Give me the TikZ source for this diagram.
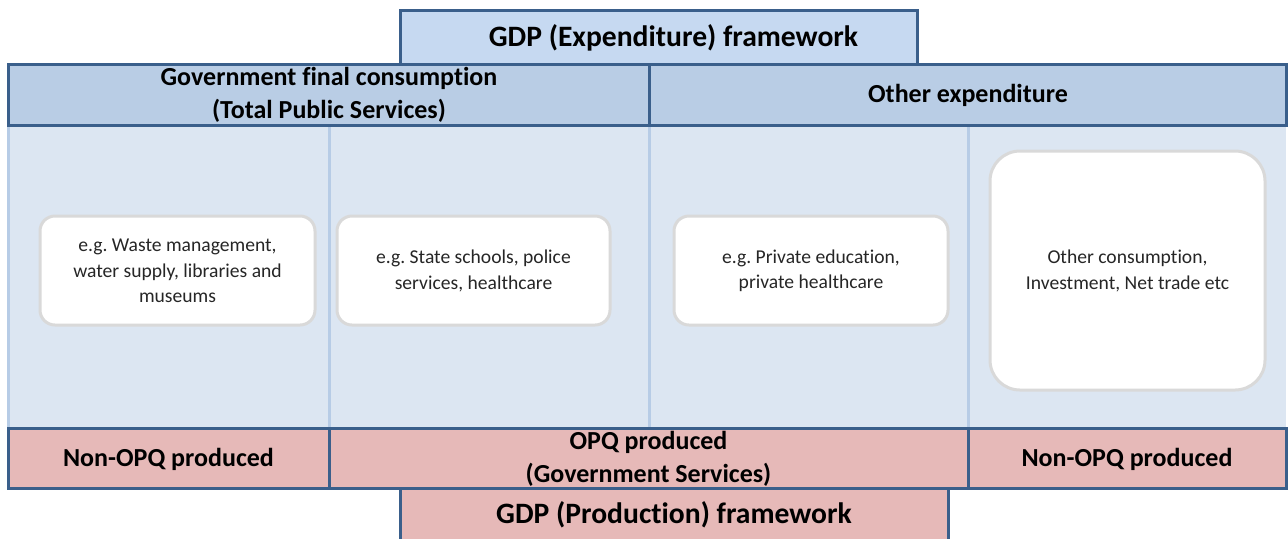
\documentclass[tikz,border=0pt]{standalone}
\usepackage{fontspec}
\setmainfont{Carlito}[Ligatures=NoCommon]
\usepackage{xcolor}
\frenchspacing

\definecolor{frameblue}{HTML}{3A5F8B}
\definecolor{topfill}{HTML}{C6D9F1}
\definecolor{headfill}{HTML}{B9CDE5}
\definecolor{bodyfill}{HTML}{DCE6F2}
\definecolor{sepblue}{HTML}{B7CCE6}
\definecolor{pinkfill}{HTML}{E6B9B8}
\definecolor{boxgrey}{HTML}{D9D9D9}

\tikzset{
    framed/.style={draw=frameblue, line width=1.5pt},
    bigtitle/.style={font=\bfseries\fontsize{14.8}{17}\selectfont, align=center},
    headtext/.style={font=\bfseries\fontsize{13}{16.5}\selectfont, align=center},
    egbox/.style={draw=boxgrey, fill=white, line width=1.5pt, rounded corners=7.5pt},
    egtext/.style={font=\fontsize{9.8}{12.75}\selectfont, align=center, text=black!85}
}

\begin{document}
\begin{tikzpicture}[x=0.5pt, y=-0.5pt]
    \useasboundingbox (0,0) rectangle (1288,538);
    \clip (0,0) rectangle (1288,538);

    % body of the table
    \fill[bodyfill] (8,125) rectangle (1286,428);
    \foreach \u in {8, 329, 649, 968}
        {
            \draw[sepblue, line width=1.5pt] (\u,125)--(\u,428);
        }

    % expenditure side
    \draw[framed, fill=headfill] (8,64) rectangle (649,125);
    \draw[framed, fill=headfill] (649,64) rectangle (1286,125);
    \draw[framed, fill=topfill] (400,10) rectangle (917,64);
    \node[bigtitle] (expframe) at (673.5,38) {GDP (Expenditure) framework};
    \node[headtext] (govcons) at (329,95) {Government final consumption\\(Total Public Services)};
    \node[headtext] (otherexp) at (968,95) {Other expenditure};

    % examples
    \draw[egbox] (40,216) rectangle (315,325);
    \draw[egbox] (337,216) rectangle (610,325);
    \draw[egbox] (674,216) rectangle (948,325);
    \draw[egbox, rounded corners=15pt] (990,151) rectangle (1265,390);
    \node[egtext] (waste) at (177.5,271) {e.g. Waste management,\\water supply, libraries and\\museums};
    \node[egtext] (state) at (473.5,271) {e.g. State schools, police\\services, healthcare};
    \node[egtext] (private) at (811,271) {e.g. Private education,\\private healthcare};
    \node[egtext] (othercons) at (1127.5,271) {Other consumption,\\Investment, Net trade etc};

    % production side
    \draw[framed, fill=pinkfill] (8,428) rectangle (329,488);
    \draw[framed, fill=pinkfill] (329,428) rectangle (968,488);
    \draw[framed, fill=pinkfill] (968,428) rectangle (1286,488);
    \draw[framed, fill=pinkfill] (400,488) rectangle (948,560);
    \node[headtext] (nonopqleft) at (168.5,459) {Non-OPQ produced};
    \node[headtext] (opq) at (648.5,459) {OPQ produced\\(Government Services)};
    \node[headtext] (nonopqright) at (1127,459) {Non-OPQ produced};
    \node[bigtitle] (prodframe) at (674,515) {GDP (Production) framework};
\end{tikzpicture}
\end{document}
